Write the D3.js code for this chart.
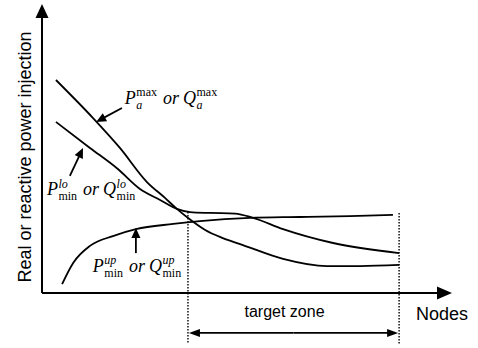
<!DOCTYPE html>
<meta charset="utf-8">
<script src="https://d3js.org/d3.v7.min.js"></script>
<style>
  body { margin: 0; background: #fff; }
</style>
<div id="chart"></div>
<script>

  // curves (node position 0-100, injection 0-100)
  var maxX = [3.4, 12.4, 19.0, 25.6, 30.0, 32.9, 36.6, 39.8, 44.1, 49.0, 58.8, 69.5, 77.6, 87.1];
  var maxY = [73.7, 60.6, 50.2, 38.4, 32.9, 29.1, 24.9, 21.8, 19.0, 16.6, 11.8, 9.3, 9.3, 9.7];
  var loX  = [3.4, 11.7, 18.5, 23.9, 28.8, 32.9, 36.1, 41.0, 47.1, 51.5, 58.8, 71.0, 87.1];
  var loY  = [59.2, 50.2, 42.9, 36.0, 32.2, 29.1, 28.0, 27.7, 27.5, 26.0, 22.1, 17.3, 13.8];
  var upX  = [4.9, 7.6, 11.7, 17.3, 22.9, 32.0, 38.5, 50.7, 62.9, 75.1, 85.6];
  var upY  = [3.1, 10.4, 16.3, 19.7, 22.1, 23.9, 24.9, 26.0, 26.3, 26.6, 27.0];

  // target zone limits
  var zoneStart = 35.6, zoneEnd = 87.1;
  var zoneTopStart = 28.0, zoneTopEnd = 27.7;

  var width = 478, height = 348;

  var svg = d3.select("#chart")
      .append("svg")
      .attr("width", width)
      .attr("height", height);

  var x = d3.scaleLinear().domain([0, 100]).range([42, 452]);
  var y = d3.scaleLinear().domain([0, 100]).range([293, 4]);

  function arrowHead(tx, ty, fx, fy, len, hw) {
      var a = Math.atan2(ty - fy, tx - fx);
      var bx = tx - len * Math.cos(a), by = ty - len * Math.sin(a);
      var px = -Math.sin(a) * hw, py = Math.cos(a) * hw;
      svg.append("polygon")
          .attr("points", [[tx, ty], [bx + px, by + py], [bx - px, by - py]].map(p => p.join(",")).join(" "))
          .attr("fill", "black");
  }

  function arrow(fx, fy, tx, ty, len, hw, w) {
      var a = Math.atan2(ty - fy, tx - fx);
      svg.append("line")
          .attr("x1", fx).attr("y1", fy)
          .attr("x2", tx - (len - 1) * Math.cos(a)).attr("y2", ty - (len - 1) * Math.sin(a))
          .attr("stroke", "black").attr("stroke-width", w);
      arrowHead(tx, ty, fx, fy, len, hw);
  }

  // axes
  arrow(x(0), y(0), x(0), y(100), 14, 6.5, 2);
  arrow(x(0), y(0), x(100), y(0), 15, 6.5, 2);

  // curves
  var line = d3.line()
      .x(d => x(d[0]))
      .y(d => y(d[1]))
      .curve(d3.curveMonotoneX);

  [[maxX, maxY], [loX, loY], [upX, upY]].forEach(s => {
      svg.append("path")
          .datum(d3.zip(s[0], s[1]))
          .attr("d", line)
          .attr("fill", "none")
          .attr("stroke", "black")
          .attr("stroke-width", 1.8);
  });

  // dotted zone limits
  [[zoneStart, zoneTopStart], [zoneEnd, zoneTopEnd]].forEach(z => {
      svg.append("line")
          .attr("x1", x(z[0])).attr("x2", x(z[0]))
          .attr("y1", y(z[1])).attr("y2", y(-17.6))
          .attr("stroke", "black")
          .attr("stroke-width", 1.4)
          .attr("stroke-dasharray", "1.5,1.5");
  });

  // double arrow for target zone
  var za = y(-13.8);
  arrow((x(zoneStart) + x(zoneEnd)) / 2, za, x(zoneEnd) - 1, za, 11, 4, 1.8);
  arrow((x(zoneStart) + x(zoneEnd)) / 2, za, x(zoneStart) + 1, za, 11, 4, 1.8);

  // annotation arrows
  arrow(x(19.5), y(64.0), x(13.2), y(59.2), 10, 4.5, 1.8);
  arrow(x(6.8), y(40.5), x(10.0), y(50.2), 10, 4.5, 1.8);
  arrow(x(22.9), y(13.8), x(22.9), y(22.5), 10, 4.5, 1.8);

  // math labels
  function mathLabel(px, py, parts) {
      var g = svg.append("g").attr("font-family", "Liberation Serif, Times New Roman, serif");
      var cx = px;
      parts.forEach(p => {
          if (p.text) {
              var t = g.append("text").attr("x", cx).attr("y", py)
                  .attr("font-size", 18).attr("font-style", "italic").text(p.text);
              cx += t.node().getComputedTextLength() + (p.gap || 0);
          } else {
              var b = g.append("text").attr("x", cx).attr("y", py)
                  .attr("font-size", 18).attr("font-style", "italic").text(p.base);
              cx += b.node().getComputedTextLength() + 0.5;
              var s1 = g.append("text").attr("x", cx).attr("y", py - 7.5)
                  .attr("font-size", 12).attr("font-style", p.supItalic ? "italic" : "normal").text(p.sup);
              var s2 = g.append("text").attr("x", cx).attr("y", py + 5)
                  .attr("font-size", 12).attr("font-style", p.subItalic ? "italic" : "normal").text(p.sub);
              cx += Math.max(s1.node().getComputedTextLength(), s2.node().getComputedTextLength()) + (p.gap || 0);
          }
      });
  }

  mathLabel(x(20.2), y(65.4), [
      {base: "P", sup: "max", sub: "a", subItalic: true, gap: 6},
      {text: "or", gap: 4},
      {base: "Q", sup: "max", sub: "a", subItalic: true}
  ]);
  mathLabel(x(1.2), y(33.9), [
      {base: "P", sup: "lo", sub: "min", supItalic: true, gap: 6},
      {text: "or", gap: 4},
      {base: "Q", sup: "lo", sub: "min", supItalic: true}
  ]);
  mathLabel(x(12.4), y(7.3), [
      {base: "P", sup: "up", sub: "min", supItalic: true, gap: 6},
      {text: "or", gap: 4},
      {base: "Q", sup: "up", sub: "min", supItalic: true}
  ]);

  // plain labels
  svg.append("text")
      .attr("transform", "translate(31,157) rotate(-90)")
      .attr("text-anchor", "middle")
      .attr("font-family", "Liberation Sans, Arial, sans-serif")
      .attr("font-size", 18)
      .text("Real or reactive power injection");

  svg.append("text")
      .attr("x", (x(zoneStart) + x(zoneEnd)) / 2 - 9)
      .attr("y", y(-8.3))
      .attr("text-anchor", "middle")
      .attr("font-family", "Liberation Sans, Arial, sans-serif")
      .attr("font-size", 16)
      .text("target zone");

  svg.append("text")
      .attr("x", 416)
      .attr("y", y(-9.3))
      .attr("font-family", "Liberation Sans, Arial, sans-serif")
      .attr("font-size", 18)
      .text("Nodes");

</script>
